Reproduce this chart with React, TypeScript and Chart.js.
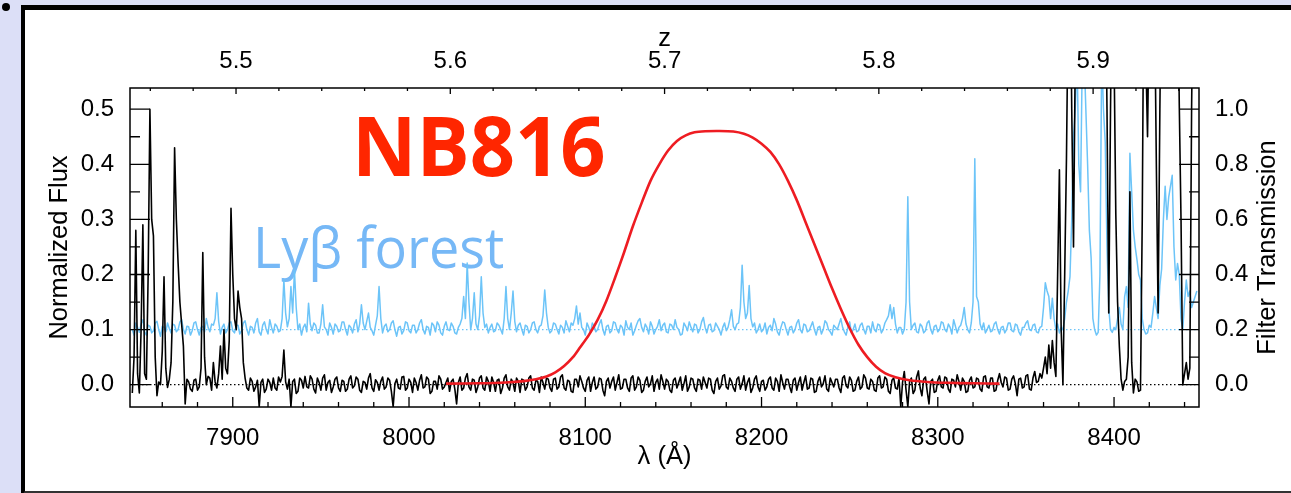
import React, { useEffect, useRef } from 'react';
import { Chart, registerables } from 'chart.js';

Chart.register(...registerables);

// ---------- data ----------
// spectra sampled every 1 Å starting at 7843 Å
const WAVE_START = 7843;
const WAVE_STEP = 1;

// z ~ 5.7 quasar spectrum (normalized flux), black
const blackFlux = [
  // 7843
  -0.015, 0.05, 0.28, 0.02, -0.015, 0.1, 0.29, 0.02, 0.01, 0.2, 0.5, 0.3, 0.27, 0.05, -0.02, 0.005, 0.0, 0.06, 0.196, 0.03,
  // 7863
  -0.005, 0.01, 0.04, 0.15, 0.43, 0.3, 0.22, 0.15, 0.11, 0.07, -0.035, 0.01, 0.005, -0.008, -0.012, 0.008, 0.01, -0.01, -0.004, 0.03,
  // 7883
  0.24, 0.05, 0.0, 0.015, 0.012, -0.01, 0.04, 0.005, -0.006, 0.02, 0.07, 0.01, 0.1, 0.03, 0.02, 0.08, 0.32, 0.2, 0.12, 0.1,
  // 7903
  0.17, 0.14, 0.12, 0.04, 0.012, -0.006, -0.01, 0.012, 0.006, -0.012, -0.004, 0.008, -0.04, 0.004, 0.01, -0.014, -0.008, 0.01, 0.004, -0.01,
  // 7923
  0.012, -0.006, -0.01, 0.014, 0.005, 0.015, 0.063, 0.005, -0.008, 0.01, -0.04, 0.006, 0.01, -0.016, -0.012, 0.012, 0.008, -0.006, 0.015, -0.004,
  // 7943
  -0.006, 0.016, 0.01, -0.008, -0.015, 0.012, 0.004, -0.01, 0.012, 0.018, -0.01, 0.004, 0.008, -0.014, -0.004, 0.01, 0.014, -0.006, -0.012, 0.008,
  // 7963
  0.006, -0.012, -0.008, 0.01, 0.016, -0.006, -0.002, 0.014, 0.01, -0.01, -0.014, 0.006, 0.004, -0.008, 0.012, 0.02, -0.006, -0.012, 0.009, 0.004,
  // 7983
  -0.01, 0.006, 0.014, -0.008, -0.004, 0.012, 0.008, -0.012, -0.04, 0.002, 0.01, -0.006, -0.008, 0.014, 0.015, -0.01, -0.006, 0.01, 0.004, -0.014,
  // 8003
  0.012, 0.004, -0.01, 0.008, 0.018, -0.006, -0.004, 0.014, 0.01, -0.016, -0.012, 0.006, 0.006, -0.008, 0.016, 0.01, -0.008, -0.004, 0.004, 0.012,
  // 8023
  -0.012, 0.006, 0.01, -0.008, -0.035, 0.004, 0.014, -0.01, -0.006, 0.012, 0.02, -0.004, -0.01, 0.01, 0.008, -0.014, -0.004, 0.012, 0.016, -0.006,
  // 8043
  -0.01, 0.014, 0.006, -0.012, 0.014, 0.004, -0.012, 0.008, 0.01, -0.016, -0.006, 0.012, 0.018, -0.004, -0.01, 0.01, 0.004, -0.012, 0.012, 0.006,
  // 8063
  -0.014, 0.01, 0.008, -0.01, -0.004, 0.012, 0.016, -0.006, -0.01, 0.008, 0.006, -0.014, 0.014, 0.004, -0.008, 0.012, 0.01, -0.006, -0.012, 0.01,
  // 8083
  0.012, -0.008, -0.004, 0.014, 0.018, -0.006, -0.01, 0.008, 0.006, -0.012, -0.014, 0.01, 0.01, -0.004, 0.016, 0.006, -0.006, -0.012, 0.008, 0.014,
  // 8103
  -0.012, 0.004, 0.014, -0.008, -0.004, 0.012, 0.01, -0.01, -0.02, 0.006, 0.012, -0.006, 0.006, 0.014, -0.01, 0.004, 0.018, -0.008, -0.006, 0.01,
  // 8123
  0.01, -0.006, -0.012, 0.012, 0.016, -0.01, -0.004, 0.014, 0.008, -0.014, -0.01, 0.006, 0.014, -0.004, 0.002, 0.016, -0.012, 0.004, 0.01, -0.008,
  // 8143
  0.018, 0.006, -0.008, 0.01, 0.006, -0.01, -0.014, 0.008, 0.012, -0.006, 0.004, 0.014, -0.01, 0.002, 0.016, -0.012, -0.004, 0.012, 0.01, -0.006,
  // 8163
  -0.012, 0.01, 0.008, -0.008, 0.014, 0.004, -0.006, 0.012, 0.01, -0.01, -0.016, 0.006, 0.012, -0.008, -0.002, 0.016, 0.018, -0.004, -0.008, 0.012,
  // 8183
  0.006, -0.006, -0.012, 0.01, 0.014, -0.008, 0.002, 0.016, -0.01, 0.004, 0.012, -0.014, -0.006, 0.01, 0.016, -0.004, -0.012, 0.006, 0.008, -0.01,
  // 8203
  -0.004, 0.01, 0.014, -0.006, -0.01, 0.012, 0.006, -0.012, 0.018, 0.004, -0.008, 0.01, 0.01, -0.004, -0.014, 0.008, 0.012, -0.01, 0.004, 0.014,
  // 8223
  -0.01, 0.004, 0.016, -0.008, -0.006, 0.012, 0.01, -0.014, -0.012, 0.006, 0.014, -0.004, 0.002, 0.016, -0.008, -0.012, 0.012, 0.004, -0.004, 0.01,
  // 8243
  0.01, -0.006, -0.014, 0.012, 0.016, -0.002, -0.006, 0.014, 0.008, -0.012, -0.01, 0.006, 0.014, -0.008, -0.004, 0.018, 0.012, -0.006, -0.008, 0.01,
  // 8263
  0.006, -0.01, -0.012, 0.012, 0.016, -0.006, -0.004, 0.014, 0.01, -0.012, -0.016, 0.008, 0.012, -0.006, -0.008, 0.012, -0.04, 0.004, 0.024, -0.01,
  // 8283
  -0.04, 0.006, 0.012, -0.016, -0.01, 0.014, 0.025, -0.006, -0.02, 0.01, 0.014, -0.012, -0.035, 0.006, 0.01, -0.014, -0.012, 0.008, 0.016, -0.004,
  // 8303
  -0.006, 0.014, 0.012, -0.008, -0.014, 0.01, 0.008, -0.004, 0.018, 0.006, -0.01, 0.012, 0.006, -0.014, -0.012, 0.008, 0.014, -0.006, -0.004, 0.012,
  // 8323
  0.01, -0.008, -0.012, 0.014, 0.016, -0.004, -0.006, 0.012, 0.012, -0.012, -0.01, 0.008, 0.02, 0.004, -0.004, 0.014, 0.012, -0.01, -0.008, 0.01,
  // 8343
  0.016, 0.002, -0.02, 0.01, 0.012, -0.006, -0.004, 0.016, 0.018, -0.008, -0.01, 0.012, 0.024, 0.004, 0.006, 0.02, 0.012, 0.03, 0.05, 0.02,
  // 8363
  0.072, 0.03, 0.08, 0.04, 0.015, 0.2, 0.39, 0.1, 0.0, 0.2, 0.41, 0.7, 0.8, 0.5, 0.25, 0.6, 0.8, 0.8, 0.8, 0.8,
  // 8383
  0.8, 0.8, 0.8, 0.8, 0.8, 0.8, 0.8, 0.8, 0.8, 0.8, 0.8, 0.8, 0.8, 0.5, 0.13, 0.5, 0.8, 0.6, 0.31, 0.15,
  // 8403
  0.07, 0.01, -0.01, 0.006, 0.01, 0.05, 0.35, 0.04, -0.015, 0.01, 0.005, -0.012, -0.01, 0.3, 0.8, 0.6, 0.45, 0.7, 0.8, 0.8,
  // 8423
  0.7, 0.4, 0.13, 0.5, 0.8, 0.8, 0.8, 0.8, 0.8, 0.8, 0.8, 0.8, 0.8, 0.8, 0.51, 0.3, 0.0, 0.02, 0.04, 0.01,
  // 8443
  0.03, 0.5, 0.8, 0.8, 0.6,
];

// Ly-beta forest flux (offset by +0.1), light blue
const blueFlux = [
  // 7843
  0.1, 0.09, 0.112, 0.104, 0.095, 0.11, 0.118, 0.096, 0.09, 0.108, 0.106, 0.094, 0.098, 0.112, 0.115, 0.1, 0.088, 0.106, 0.104, 0.096,
  // 7863
  0.112, 0.102, 0.094, 0.11, 0.108, 0.096, 0.1, 0.114, 0.118, 0.1, 0.092, 0.106, 0.105, 0.09, 0.098, 0.112, 0.114, 0.1, 0.09, 0.104,
  // 7883
  0.106, 0.096, 0.12, 0.104, 0.096, 0.11, 0.108, 0.12, 0.167, 0.115, 0.092, 0.104, 0.11, 0.094, 0.1, 0.112, 0.114, 0.098, 0.094, 0.108,
  // 7903
  0.108, 0.092, 0.098, 0.112, 0.116, 0.1, 0.09, 0.106, 0.104, 0.094, 0.112, 0.12, 0.096, 0.09, 0.108, 0.114, 0.1, 0.092, 0.118, 0.104,
  // 7923
  0.094, 0.11, 0.106, 0.096, 0.098, 0.12, 0.19, 0.13, 0.105, 0.12, 0.178, 0.13, 0.208, 0.14, 0.1, 0.11, 0.09, 0.104, 0.11, 0.096,
  // 7943
  0.148, 0.11, 0.098, 0.112, 0.108, 0.094, 0.094, 0.11, 0.145, 0.105, 0.1, 0.09, 0.112, 0.104, 0.092, 0.11, 0.106, 0.096, 0.098, 0.114,
  // 7963
  0.114, 0.1, 0.09, 0.108, 0.104, 0.094, 0.11, 0.118, 0.096, 0.11, 0.145, 0.112, 0.1, 0.115, 0.13, 0.104, 0.098, 0.09, 0.108, 0.125,
  // 7983
  0.178, 0.12, 0.094, 0.106, 0.11, 0.096, 0.1, 0.112, 0.116, 0.1, 0.088, 0.104, 0.106, 0.092, 0.098, 0.114, 0.112, 0.098, 0.094, 0.108,
  // 8003
  0.108, 0.094, 0.1, 0.112, 0.118, 0.1, 0.092, 0.106, 0.104, 0.09, 0.112, 0.108, 0.096, 0.114, 0.108, 0.094, 0.09, 0.106, 0.114, 0.1,
  // 8023
  0.098, 0.112, 0.106, 0.094, 0.092, 0.104, 0.11, 0.12, 0.16, 0.12, 0.221, 0.15, 0.1, 0.12, 0.167, 0.11, 0.1, 0.125, 0.196, 0.13,
  // 8043
  0.104, 0.11, 0.094, 0.104, 0.11, 0.096, 0.098, 0.112, 0.108, 0.1, 0.092, 0.12, 0.178, 0.12, 0.1, 0.13, 0.17, 0.115, 0.096, 0.108,
  // 8063
  0.112, 0.1, 0.09, 0.108, 0.106, 0.094, 0.1, 0.112, 0.114, 0.1, 0.094, 0.106, 0.108, 0.125, 0.172, 0.13, 0.104, 0.094, 0.098, 0.112,
  // 8083
  0.11, 0.1, 0.092, 0.108, 0.104, 0.094, 0.116, 0.106, 0.096, 0.112, 0.108, 0.12, 0.143, 0.11, 0.13, 0.104, 0.1, 0.09, 0.112, 0.104,
  // 8103
  0.094, 0.112, 0.106, 0.096, 0.1, 0.11, 0.118, 0.1, 0.09, 0.106, 0.108, 0.094, 0.098, 0.114, 0.112, 0.1, 0.094, 0.108, 0.104, 0.09,
  // 8123
  0.116, 0.104, 0.1, 0.112, 0.09, 0.098, 0.108, 0.116, 0.12, 0.104, 0.096, 0.11, 0.104, 0.092, 0.114, 0.106, 0.092, 0.1, 0.106, 0.118,
  // 8143
  0.098, 0.108, 0.112, 0.096, 0.094, 0.11, 0.108, 0.1, 0.118, 0.104, 0.1, 0.09, 0.092, 0.112, 0.106, 0.098, 0.114, 0.104, 0.096, 0.11,
  // 8163
  0.108, 0.094, 0.1, 0.114, 0.122, 0.104, 0.094, 0.108, 0.11, 0.096, 0.098, 0.112, 0.106, 0.1, 0.09, 0.104, 0.112, 0.098, 0.104, 0.118,
  // 8183
  0.136, 0.106, 0.1, 0.11, 0.112, 0.14, 0.217, 0.15, 0.12, 0.13, 0.18, 0.12, 0.105, 0.112, 0.094, 0.1, 0.11, 0.096, 0.1, 0.112,
  // 8203
  0.092, 0.104, 0.108, 0.098, 0.12, 0.11, 0.096, 0.09, 0.104, 0.114, 0.112, 0.1, 0.09, 0.104, 0.106, 0.094, 0.1, 0.112, 0.118, 0.1,
  // 8223
  0.094, 0.11, 0.108, 0.096, 0.098, 0.106, 0.114, 0.1, 0.09, 0.104, 0.106, 0.092, 0.1, 0.116, 0.112, 0.1, 0.096, 0.09, 0.108, 0.104,
  // 8243
  0.1, 0.11, 0.12, 0.104, 0.096, 0.09, 0.104, 0.114, 0.094, 0.1, 0.11, 0.096, 0.098, 0.108, 0.112, 0.1, 0.092, 0.106, 0.106, 0.094,
  // 8263
  0.114, 0.1, 0.096, 0.11, 0.108, 0.094, 0.1, 0.112, 0.118, 0.125, 0.145, 0.12, 0.14, 0.11, 0.094, 0.104, 0.104, 0.092, 0.1, 0.15,
  // 8283
  0.341, 0.15, 0.1, 0.108, 0.112, 0.096, 0.094, 0.11, 0.106, 0.094, 0.098, 0.112, 0.116, 0.1, 0.092, 0.106, 0.108, 0.096, 0.1, 0.114,
  // 8303
  0.112, 0.1, 0.096, 0.11, 0.104, 0.092, 0.118, 0.106, 0.094, 0.104, 0.108, 0.12, 0.14, 0.11, 0.1, 0.094, 0.112, 0.15, 0.41, 0.16,
  // 8323
  0.15, 0.11, 0.1, 0.112, 0.094, 0.1, 0.108, 0.096, 0.098, 0.11, 0.114, 0.1, 0.092, 0.104, 0.106, 0.094, 0.1, 0.112, 0.112, 0.098,
  // 8343
  0.096, 0.11, 0.108, 0.096, 0.09, 0.104, 0.104, 0.112, 0.116, 0.1, 0.098, 0.108, 0.11, 0.096, 0.094, 0.104, 0.106, 0.14, 0.185, 0.17,
  // 8363
  0.16, 0.12, 0.157, 0.12, 0.1, 0.11, 0.094, 0.104, 0.1, 0.12, 0.15, 0.17, 0.196, 0.3, 0.45, 0.5, 0.6, 0.4, 0.35, 0.6,
  // 8383
  0.6, 0.5, 0.4, 0.28, 0.23, 0.12, 0.1, 0.09, 0.095, 0.2, 0.6, 0.5, 0.44, 0.25, 0.14, 0.1, 0.095, 0.104, 0.1, 0.12,
  // 8403
  0.14, 0.11, 0.1, 0.16, 0.178, 0.14, 0.42, 0.35, 0.28, 0.25, 0.227, 0.2, 0.19, 0.12, 0.1, 0.092, 0.094, 0.108, 0.104, 0.13,
  // 8423
  0.16, 0.14, 0.12, 0.18, 0.21, 0.3, 0.36, 0.3, 0.34, 0.36, 0.38, 0.25, 0.19, 0.22, 0.2, 0.12, 0.1, 0.15, 0.19, 0.16,
  // 8443
  0.17, 0.14, 0.15, 0.16, 0.17,
];

// NB816 filter transmission curve
const filterWave = [
  8021, 8040, 8055, 8065, 8072, 8078, 8083, 8088, 8093, 8097,
  8102, 8107, 8112, 8117, 8122, 8127, 8132, 8137, 8142, 8147,
  8152, 8157, 8162, 8168, 8176, 8184, 8190, 8195, 8200, 8205,
  8210, 8215, 8220, 8225, 8230, 8235, 8240, 8245, 8250, 8255,
  8260, 8265, 8270, 8276, 8284, 8294, 8305, 8320, 8335,
];
const filterTrans = [
  0.004, 0.005, 0.008, 0.013, 0.02, 0.03, 0.045, 0.068, 0.1, 0.135,
  0.18, 0.235, 0.305, 0.39, 0.48, 0.575, 0.66, 0.74, 0.8, 0.85,
  0.885, 0.905, 0.916, 0.92, 0.921, 0.919, 0.911, 0.897, 0.875, 0.845,
  0.8, 0.74, 0.67, 0.59, 0.51, 0.43, 0.35, 0.275, 0.205, 0.145,
  0.1, 0.065, 0.042, 0.027, 0.016, 0.01, 0.007, 0.005, 0.004,
];

// reference levels (dotted)
const zeroLevel = 0.0;
const forestLevel = 0.1;

// axes
const waveTicks = [7900, 8000, 8100, 8200, 8300, 8400];
const zTicks = [5.5, 5.6, 5.7, 5.8, 5.9];
const fluxTicks = [0.0, 0.1, 0.2, 0.3, 0.4, 0.5];
const transTicks = [0.0, 0.2, 0.4, 0.6, 0.8, 1.0];
const LYA_REST = 1215.67;
const WAVE_MIN = 7841.7;
const WAVE_MAX = 8448.2;
const FLUX_MIN = -0.0405;
const FLUX_MAX = 0.5385;

// ---------- styles ----------
const BLACK = '#000000';
const BLUE = '#6cc4f8';
const RED = '#ee1c22';
const NB_COLOR = '#ff2600';
const LYB_COLOR = '#76b8f6';
const TICK_FONT = '"Liberation Sans", Arial, sans-serif';

const zOf = (w: number) => w / LYA_REST - 1;

const decorPlugin = {
  id: 'decor',
  beforeDatasetsDraw(chart: any) {
    const ctx = chart.ctx;
    ctx.save();
    ctx.textBaseline = 'alphabetic';
    ctx.textAlign = 'left';
    ctx.fillStyle = NB_COLOR;
    ctx.font = 'bold 83px "Open Sans"';
    ctx.translate(352, 176);
    ctx.scale(0.955, 1);
    ctx.fillText('NB816', 0, 0);
    ctx.restore();
    ctx.save();
    ctx.textBaseline = 'alphabetic';
    ctx.textAlign = 'left';
    ctx.fillStyle = LYB_COLOR;
    ctx.font = '56px "Open Sans"';
    ctx.translate(253, 268);
    ctx.scale(0.965, 1);
    ctx.fillText('Lyβ forest', 0, 0);
    ctx.restore();
  },
  afterDraw(chart: any) {
    const { ctx, chartArea: a, scales } = chart;
    ctx.save();
    ctx.strokeStyle = BLACK;
    ctx.lineWidth = 1.5;
    ctx.strokeRect(a.left, a.top, a.right - a.left, a.bottom - a.top);
    ctx.lineWidth = 1.3;
    ctx.beginPath();
    // left / right ticks
    const yS = scales.y;
    for (let k = 0; k <= 10; k++) {
      const v = k * 0.05;
      const py = yS.getPixelForValue(v);
      const len = k % 2 === 0 ? 20 : 10;
      ctx.moveTo(a.left, py);
      ctx.lineTo(a.left + len, py);
      ctx.moveTo(a.right, py);
      ctx.lineTo(a.right - len, py);
    }
    // bottom ticks
    const xS = scales.x;
    for (let w = 7860; w <= WAVE_MAX; w += 20) {
      const px = xS.getPixelForValue(w);
      const len = w % 100 === 0 ? 10 : 5;
      ctx.moveTo(px, a.bottom);
      ctx.lineTo(px, a.bottom - len);
    }
    // top ticks
    const tS = scales.xTop;
    for (let k = 273; k <= 297; k++) {
      const z = k / 50;
      const px = tS.getPixelForValue(z);
      const len = k % 5 === 0 ? 6 : 3;
      ctx.moveTo(px, a.top);
      ctx.lineTo(px, a.top + len);
    }
    ctx.stroke();
    // right axis title
    ctx.fillStyle = BLACK;
    ctx.font = '25.5px ' + TICK_FONT;
    ctx.translate(1268, (a.top + a.bottom) / 2);
    ctx.rotate(-Math.PI / 2);
    ctx.textAlign = 'center';
    ctx.textBaseline = 'middle';
    ctx.fillText('Filter Transmission', 0, 0);
    ctx.restore();
  },
};

export default function App() {
  const ref = useRef<HTMLCanvasElement | null>(null);

  useEffect(() => {
    if (!ref.current) return;
    const toXY = (arr: number[]) => arr.map((y, i) => ({ x: WAVE_START + i * WAVE_STEP, y }));
    const tickFont = { family: TICK_FONT, size: 24 };
    const titleFont = { family: TICK_FONT, size: 25.5 };
    const chart = new Chart(ref.current, {
      type: 'line',
      data: {
        datasets: [
          {
            label: 'NB816 filter',
            data: filterWave.map((w, i) => ({ x: w, y: filterTrans[i] })),
            yAxisID: 'y2',
            borderColor: RED,
            borderWidth: 2.6,
            pointRadius: 0,
            tension: 0.3,
            order: 0,
          },
          {
            label: 'spectrum',
            data: toXY(blackFlux),
            borderColor: BLACK,
            borderWidth: 1.6,
            pointRadius: 0,
            borderJoinStyle: 'round',
            order: 1,
          },
          {
            label: 'Lyb forest',
            data: toXY(blueFlux),
            borderColor: BLUE,
            borderWidth: 1.5,
            pointRadius: 0,
            borderJoinStyle: 'round',
            order: 2,
          },
          {
            label: 'zero',
            data: [{ x: WAVE_MIN, y: zeroLevel }, { x: WAVE_MAX, y: zeroLevel }],
            borderColor: BLACK,
            borderWidth: 1.2,
            borderDash: [1.5, 2.5],
            pointRadius: 0,
            order: 3,
          },
          {
            label: 'forest zero',
            data: [{ x: WAVE_MIN, y: forestLevel }, { x: WAVE_MAX, y: forestLevel }],
            borderColor: BLUE,
            borderWidth: 1.2,
            borderDash: [1.5, 2.5],
            pointRadius: 0,
            order: 4,
          },
        ],
      },
      options: {
        animation: false,
        responsive: false,
        maintainAspectRatio: false,
        devicePixelRatio: 1,
        layout: { padding: 0 },
        plugins: { legend: { display: false }, tooltip: { enabled: false } },
        scales: {
          x: {
            type: 'linear',
            position: 'bottom',
            min: WAVE_MIN,
            max: WAVE_MAX,
            grid: { display: false },
            border: { display: false },
            afterBuildTicks: (s: any) => { s.ticks = waveTicks.map((v) => ({ value: v })); },
            afterFit: (s: any) => { s.height = 86; },
            ticks: { font: tickFont, color: BLACK, padding: 9, maxRotation: 0, autoSkip: false, callback: (v: any) => String(v) },
            title: { display: true, text: 'λ (Å)', font: titleFont, color: BLACK, padding: { top: 0, bottom: 21 } },
          },
          xTop: {
            type: 'linear',
            position: 'top',
            min: zOf(WAVE_MIN),
            max: zOf(WAVE_MAX),
            grid: { display: false },
            border: { display: false },
            afterBuildTicks: (s: any) => { s.ticks = zTicks.map((v) => ({ value: v })); },
            afterFit: (s: any) => { s.height = 88; },
            ticks: { font: tickFont, color: BLACK, padding: 4, maxRotation: 0, autoSkip: false, callback: (v: any) => Number(v).toFixed(1) },
            title: { display: true, text: 'z', font: titleFont, color: BLACK, padding: { top: 24, bottom: 0 } },
          },
          y: {
            type: 'linear',
            position: 'left',
            min: FLUX_MIN,
            max: FLUX_MAX,
            grid: { display: false },
            border: { display: false },
            afterBuildTicks: (s: any) => { s.ticks = fluxTicks.map((v) => ({ value: v })); },
            afterFit: (s: any) => { s.width = 130; },
            ticks: { font: tickFont, color: BLACK, padding: 8, autoSkip: false, callback: (v: any) => Number(v).toFixed(1) },
            title: { display: true, text: 'Normalized Flux', font: titleFont, color: BLACK, padding: { top: 45, bottom: 0 } },
          },
          y2: {
            type: 'linear',
            position: 'right',
            min: FLUX_MIN * 2,
            max: FLUX_MAX * 2,
            grid: { display: false },
            border: { display: false },
            afterBuildTicks: (s: any) => { s.ticks = transTicks.map((v) => ({ value: v })); },
            afterFit: (s: any) => { s.width = 92; },
            ticks: { font: tickFont, color: BLACK, padding: 8, autoSkip: false, callback: (v: any) => Number(v).toFixed(1) },
          },
        },
      },
      plugins: [decorPlugin],
    } as any);
    return () => chart.destroy();
  }, []);

  return (
    <div style={{ position: 'absolute', left: 0, top: 0, width: 1291, height: 493, overflow: 'hidden', background: '#dcdff7' }}>
      <div style={{ position: 'absolute', left: 2, top: 3, width: 8, height: 8, borderRadius: '50%', background: '#000' }} />
      <div
        style={{
          position: 'absolute',
          left: 21,
          top: 5,
          width: 1400,
          height: 481,
          borderLeft: '4px solid #000',
          borderTop: '5px solid #000',
          borderBottom: '5px solid #333',
          background: '#fff',
        }}
      />
      <canvas ref={ref} width={1291} height={493} style={{ position: 'absolute', left: 0, top: 0, width: 1291, height: 493 }} />
    </div>
  );
}
